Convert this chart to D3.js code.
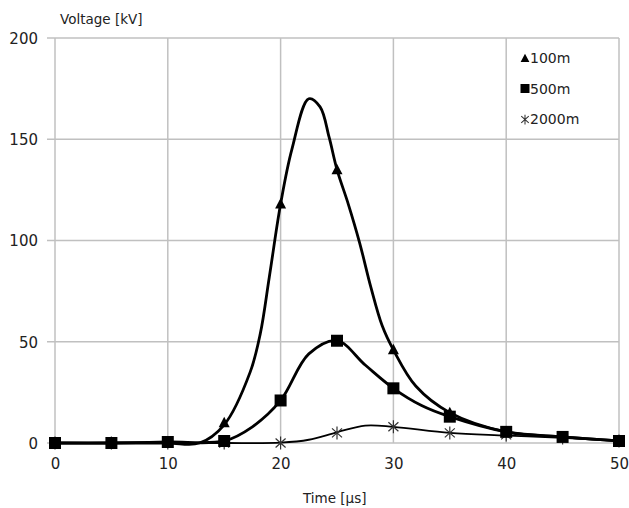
<!DOCTYPE html>
<html>
<head>
<meta charset="utf-8">
<script src="https://cdn.jsdelivr.net/npm/d3@7"></script>
<style>
  body { margin: 0; background: #fff; }
  text { font-family: "DejaVu Sans", sans-serif; fill: #222; }
</style>
</head>
<body>
<div id="chart"></div>
<script>
// marker points, every 5 µs
const markerTimes = [0, 5, 10, 15, 20, 25, 30, 35, 40, 45, 50];
const marks100 = [0, 0, 0, 10, 118, 135, 46, 15, 5.5, 3, 1];
const marks500 = [0, 0, 0.5, 1, 21, 50.5, 27, 13, 5.5, 3, 1];
const marks2000 = [0, 0, 0, 0, 0, 5, 8, 5, 4, 2.5, 1];

// curve points
const curveTimes100 = [0, 5, 10, 12.8, 15, 17.3, 18.2, 19, 20, 21, 22.5, 23.5, 24.3, 25, 26, 27, 28, 29, 30, 32, 35, 40, 45, 50];
const curve100 = [0, 0, 0, 0, 9, 35, 54, 82, 118, 145, 170, 166, 151, 135, 118, 99, 77, 58, 46, 28, 15, 5.5, 3, 1];
const curveTimes500 = [0, 5, 10, 15, 17.5, 20, 22.5, 25, 27.5, 30, 32.5, 35, 40, 45, 50];
const curve500 = [0, 0, 0.5, 1, 8, 21, 44, 50.5, 38.5, 27, 18.5, 13, 5.5, 3, 1];
const curveTimes2000 = [0, 5, 10, 15, 20, 22.5, 25, 27.5, 30, 35, 40, 45, 50];
const curve2000 = [0, 0, 0, 0, 0.2, 1.6, 5.3, 8.6, 8, 5, 3.7, 2.5, 1];

const xTicks = [0, 10, 20, 30, 40, 50];
const yTicks = [0, 50, 100, 150, 200];
const seriesNames = ["100m", "500m", "2000m"];

const width = 629, height = 508;
const margin = { top: 38, right: 10, bottom: 65, left: 55 };

const svg = d3.select("#chart").append("svg")
    .attr("width", width)
    .attr("height", height);

const x = d3.scaleLinear().domain([0, 50]).range([margin.left, 619]);
const y = d3.scaleLinear().domain([0, 200]).range([443, margin.top]);

const gridColor = "#c0c0c0";

// gridlines
svg.append("g")
    .selectAll("line")
    .data(xTicks)
    .join("line")
    .attr("x1", d => x(d)).attr("x2", d => x(d))
    .attr("y1", y(200)).attr("y2", y(0))
    .attr("stroke", gridColor)
    .attr("stroke-width", 1.5);

svg.append("g")
    .selectAll("line")
    .data(yTicks)
    .join("line")
    .attr("x1", x(0) - 8).attr("x2", x(50))
    .attr("y1", d => y(d)).attr("y2", d => y(d))
    .attr("stroke", gridColor)
    .attr("stroke-width", 1.5);

// Y axis labels
svg.append("g")
    .call(d3.axisLeft(y).tickValues(yTicks).tickSize(0).tickPadding(0))
    .attr("transform", `translate(${x(0) - 17},0)`)
    .call(g => g.select(".domain").remove())
    .selectAll("text")
    .style("font-size", "15px")
    .attr("dy", "0.36em");

// X axis labels
svg.append("g")
    .attr("transform", `translate(0,${y(0)})`)
    .call(d3.axisBottom(x).tickValues(xTicks).tickSize(0).tickPadding(15))
    .call(g => g.select(".domain").remove())
    .selectAll("text")
    .style("font-size", "15px");

svg.selectAll(".tick text").style("fill", "#222").attr("font-family", "DejaVu Sans");

// axis titles
svg.append("text")
    .attr("x", 60).attr("y", 24)
    .style("font-size", "13.5px")
    .text("Voltage [kV]");

svg.append("text")
    .attr("x", 303).attr("y", 503)
    .style("font-size", "13.5px")
    .text("Time [µs]");

// lines
const line = d3.line()
    .x(d => x(d[0]))
    .y(d => y(d[1]))
    .curve(d3.curveCatmullRom.alpha(0.5));

const zip = (ts, vs) => ts.map((t, i) => [t, vs[i]]);

svg.append("path")
    .datum(zip(curveTimes100, curve100))
    .attr("d", line)
    .attr("fill", "none")
    .attr("stroke", "#000")
    .attr("stroke-width", 2.8);

svg.append("path")
    .datum(zip(curveTimes2000, curve2000))
    .attr("d", line)
    .attr("fill", "none")
    .attr("stroke", "#000")
    .attr("stroke-width", 1.8);

svg.append("path")
    .datum(zip(curveTimes500, curve500))
    .attr("d", line)
    .attr("fill", "none")
    .attr("stroke", "#000")
    .attr("stroke-width", 2.8);

// markers
const triPath = "M0,-6L5.5,4.5L-5.5,4.5Z";
const sqPath = "M-6,-6H6V6H-6Z";
const starPath = "M0,-6.5V6.5M-5,-4.5L5,4.5M-5,4.5L5,-4.5";

svg.append("g")
    .selectAll("path")
    .data(zip(markerTimes, marks100))
    .join("path")
    .attr("transform", d => `translate(${x(d[0])},${y(d[1])})`)
    .attr("d", triPath)
    .attr("fill", "#000");

svg.append("g")
    .selectAll("path")
    .data(zip(markerTimes, marks2000))
    .join("path")
    .attr("transform", d => `translate(${x(d[0])},${y(d[1])})`)
    .attr("d", starPath)
    .attr("fill", "none")
    .attr("stroke", "#333")
    .attr("stroke-width", 1.2);

svg.append("g")
    .selectAll("path")
    .data(zip(markerTimes, marks500))
    .join("path")
    .attr("transform", d => `translate(${x(d[0])},${y(d[1])})`)
    .attr("d", sqPath)
    .attr("fill", "#000");

// legend
const legendY = [58, 88.5, 118.5];
const legend = svg.append("g");
legend.append("path")
    .attr("transform", `translate(525,${legendY[0] + 0.5}) scale(0.8)`)
    .attr("d", triPath).attr("fill", "#000");
legend.append("path")
    .attr("transform", `translate(525,${legendY[1]}) scale(0.75)`)
    .attr("d", sqPath).attr("fill", "#000");
legend.append("path")
    .attr("transform", `translate(525,${legendY[2] + 1}) scale(0.75)`)
    .attr("d", starPath).attr("fill", "none")
    .attr("stroke", "#333").attr("stroke-width", 1.4);
legend.selectAll("text")
    .data(seriesNames)
    .join("text")
    .attr("x", 530)
    .attr("y", (d, i) => legendY[i] + 5)
    .style("font-size", "14px")
    .text(d => d);
</script>
</body>
</html>
